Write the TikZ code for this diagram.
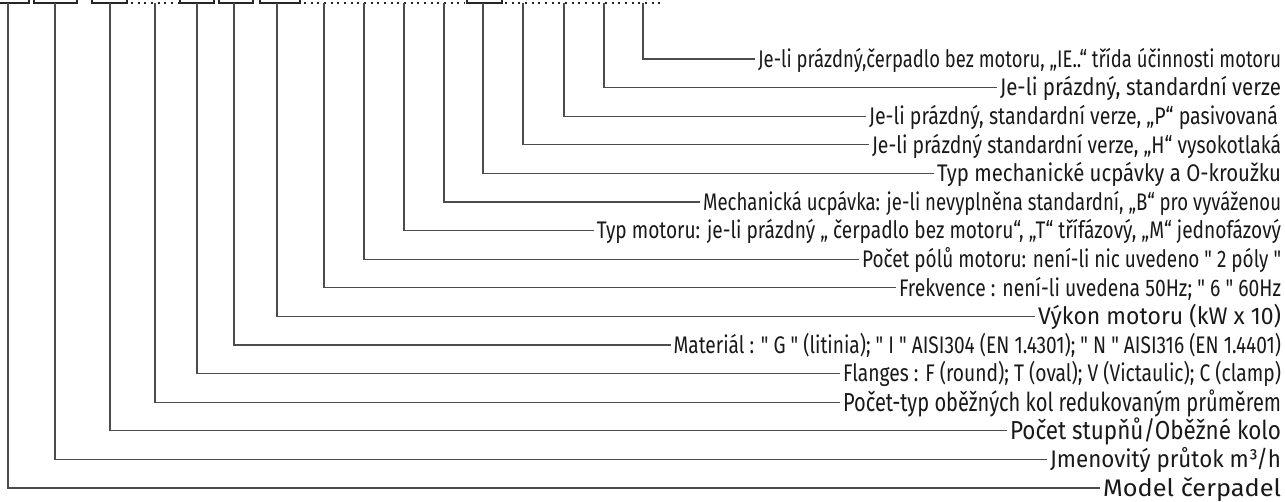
\documentclass[tikz,border=0pt]{standalone}
\usepackage{fontspec}
\setmainfont{Fira Sans}
\newfontfamily\lblfont{Fira Sans}
\newsavebox\lblbox
\newcommand\fitlbl[2]{\sbox\lblbox{#2}\pgfmathsetmacro\lblsc{#1*0.75/\the\wd\lblbox}\scalebox{\lblsc}[1]{\usebox\lblbox}}
\newcommand\unilbl[1]{\sbox\lblbox{Je-li prázdný,čerpadlo bez motoru, „IE..“ třída účinnosti motoruJe-li prázdný, standardní verze, „P“ pasivovanáJe-li prázdný standardní verze, „H“ vysokotlakáPočet pólů motoru: není-li nic uvedeno " 2 póly "Frekvence : není-li uvedena 50Hz; " 6 " 60HzFlanges : F (round); T (oval); V (Victaulic); C (clamp)}\pgfmathsetmacro\lblsc{2582*0.75/\the\wd\lblbox}\scalebox{\lblsc}[1]{#1}}
\begin{document}
\begin{tikzpicture}[x=0.75pt,y=-0.75pt,
  lead/.style={draw=black!70, line width=0.8pt},
  boxst/.style={draw=black!85, line width=1.6pt},
  dotst/.style={draw=black!85, line width=1.9pt, dash pattern=on 1.6pt off 3.4pt},
  lbl/.style={anchor=east, inner xsep=2pt, inner ysep=0pt, text height=12.4pt, text depth=0pt, text=black!90, font=\lblfont\fontsize{18}{20}\selectfont},
  lblbig/.style={lbl, text height=13.4pt, font=\lblfont\fontsize{19.5}{22}\selectfont}]
\useasboundingbox (0,0) rectangle (1285,502);
\clip (0,0) rectangle (1285,502);
% code boxes
\draw[boxst] (-6,-30) rectangle (29,3);
\draw[boxst] (34,-30) rectangle (77,3);
\draw[boxst] (92,-30) rectangle (127,3);
\draw[boxst] (180,-30) rectangle (214,3);
\draw[boxst] (219,-30) rectangle (253,3);
\draw[boxst] (260,-30) rectangle (300,3);
\draw[boxst] (467,-30) rectangle (502,3);
% dotted gaps
\draw[dotst] (131,3) -- (178,3);
\draw[dotst] (304,3) -- (465,3);
\draw[dotst] (505,3) -- (660,3);
% connector tops
\coordinate (t1) at (643,3);
\coordinate (t2) at (604,3);
\coordinate (t3) at (564,3);
\coordinate (t4) at (523,3);
\coordinate (t5) at (483,3);
\coordinate (t6) at (444,3);
\coordinate (t7) at (404,3);
\coordinate (t8) at (364,3);
\coordinate (t9) at (324,3);
\coordinate (t10) at (277,3);
\coordinate (t11) at (234,3);
\coordinate (t12) at (197,3);
\coordinate (t13) at (155,3);
\coordinate (t14) at (110,3);
\coordinate (t15) at (55,3);
\coordinate (t16) at (8,3);
% labels
\node[lbl] (l1) at (1284,59) {\fitlbl{523}{Je-li prázdný,čerpadlo bez motoru, „IE..“ třída účinnosti motoru}};
\node[lbl] (l2) at (1284,87.6) {\fitlbl{281}{Je-li prázdný, standardní verze}};
\node[lbl] (l3) at (1281,116.2) {\fitlbl{409}{Je-li prázdný, standardní verze, „P“ pasivovaná}};
\node[lbl] (l4) at (1284,144.8) {\fitlbl{409}{Je-li prázdný standardní verze, „H“ vysokotlaká}};
\node[lbl] (l5) at (1284,173.4) {\fitlbl{344}{Typ mechanické ucpávky a O-kroužku}};
\node[lbl] (l6) at (1284,202) {\fitlbl{578}{Mechanická ucpávka: je-li nevyplněna standardní, „B“ pro vyváženou}};
\node[lbl] (l7) at (1284,230.6) {\unilbl{Typ motoru: je-li prázdný „ čerpadlo bez motoru“, „T“ třífázový, „M“ jednofázový}};
\node[lbl] (l8) at (1284,259.2) {\fitlbl{419}{Počet pólů motoru: není-li nic uvedeno " 2 póly "}};
\node[lbl] (l9) at (1284,287.8) {\fitlbl{382}{Frekvence : není-li uvedena 50Hz; " 6 " 60Hz}};
\node[lbl] (l10) at (1284,316.4) {\fitlbl{243}{Výkon motoru (kW x 10)}};
\node[lbl] (l11) at (1284,345) {\unilbl{Materiál : " G " (litinia); " I " AISI304 (EN 1.4301); " N " AISI316 (EN 1.4401)}};
\node[lbl] (l12) at (1284,373.6) {\fitlbl{438}{Flanges : F (round); T (oval); V (Victaulic); C (clamp)}};
\node[lblbig] (l13) at (1284,402.2) {\fitlbl{438}{Počet-typ oběžných kol redukovaným průměrem}};
\node[lblbig] (l14) at (1284,430.8) {\fitlbl{271}{Počet stupňů/Oběžné kolo}};
\node[lbl] (l15) at (1284,459.4) {\fitlbl{231}{Jmenovitý průtok m³/h}};
\node[lbl] (l16) at (1284,488) {\fitlbl{178}{Model čerpadel}};
% connectors
\foreach \i in {1,...,16} {\draw[lead] (t\i) |- (l\i.west);}
\end{tikzpicture}
\end{document}
